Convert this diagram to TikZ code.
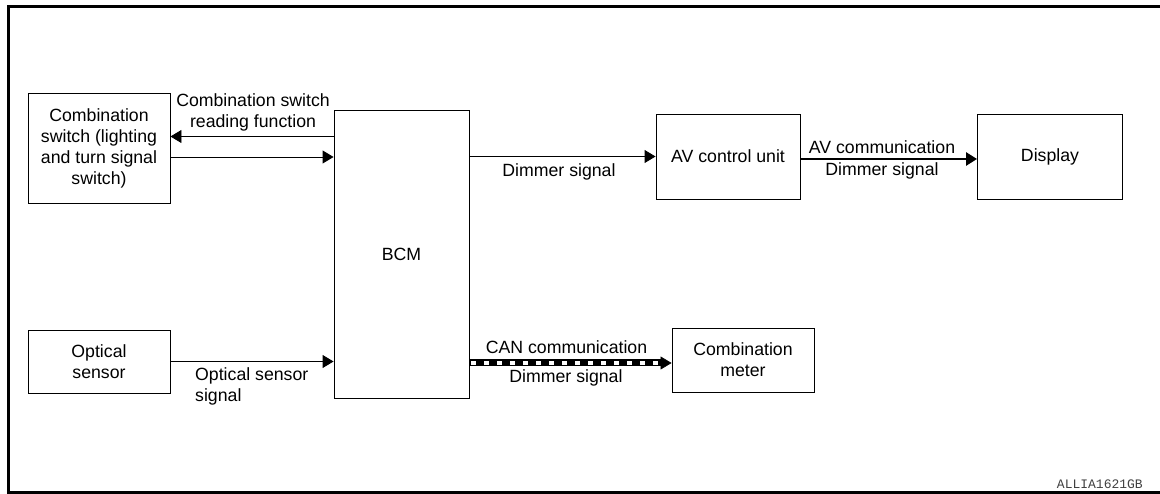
\documentclass[tikz,border=0pt]{standalone}
\usepackage{fontspec}
\setmainfont{Liberation Sans}
\newfontfamily\codefont{Liberation Mono}
\usetikzlibrary{arrows.meta}
\tikzset{
  unit/.style={draw, line width=0.9pt, align=center, inner sep=0pt,
    font=\fontsize{17.7}{21}\selectfont},
  lbl/.style={align=center, inner sep=0pt, font=\fontsize{17.7}{21}\selectfont},
  sig/.style={line width=0.9pt, -{Triangle[length=11pt,width=13pt]}},
  bus/.style={line width=2.6pt, -{Triangle[length=11pt,width=13pt]}},
  frame/.style={line width=3pt}
}
\begin{document}
\begin{tikzpicture}[x=1pt,y=-1pt]
\useasboundingbox (0,0) rectangle (1160,494);
% page frame, open on the right
\draw[frame] (1160,6.5) -- (8.5,6.5) -- (8.5,492.5) -- (1160,492.5);

% units
\node[unit, minimum width=142pt, minimum height=110pt] (comb) at (99,148)
  {Combination\\switch (lighting\\and turn signal\\switch)};
\node[unit, minimum width=142pt, minimum height=63pt] (opt) at (99,361.5)
  {Optical\\sensor};
\node[unit, minimum width=135pt, minimum height=288pt] (bcm) at (401.5,254) {BCM};
\node[unit, minimum width=144pt, minimum height=85pt] (av) at (728,156.5) {AV control unit};
\node[unit, minimum width=145pt, minimum height=85pt] (disp) at (1050,156.5) {Display};
\node[unit, minimum width=142pt, minimum height=64pt] (meter) at (743,360)
  {Combination\\meter};

% combination switch <-> BCM
\draw[sig] (bcm.west |- 0,136.5) -- (comb.east |- 0,136.5);
\draw[sig] (comb.east |- 0,157) -- (bcm.west |- 0,157);
\node[lbl] (lread) at (253,112) {Combination switch\\reading function};

% optical sensor -> BCM
\draw[sig] (opt.east) -- (bcm.west |- opt.east);
\node[lbl, anchor=west, align=left] (lopt) at (195,386) {Optical sensor\\signal};

% BCM -> AV control unit
\draw[sig] (bcm.east |- av.west) -- (av.west);
\node[lbl] (ldim) at (559,172) {Dimmer signal};

% AV control unit -> display
\draw[bus] (av.east |- 0,159) -- (disp.west |- 0,159);
\node[lbl] (lavc) at (882,147) {AV communication};
\node[lbl] (lavd) at (882,170.5) {Dimmer signal};

% BCM -> combination meter over CAN
\coordinate (canA) at (bcm.east |- 0,363);
\coordinate (canB) at ([xshift=-11pt]meter.west |- 0,363);
\draw[line width=7pt] (canA) -- (canB);
\draw[line width=4.6pt, white, dash pattern=on 5pt off 8pt, dash phase=-2pt] (canA) -- (canB);
\draw[sig, line width=0.6pt] (canB) -- (meter.west |- 0,363);
\node[lbl] (lcanc) at (566.5,347) {CAN communication};
\node[lbl] (lcand) at (566,377.5) {Dimmer signal};

% drawing code
\node[anchor=east, inner sep=0pt, text=black!75, font=\codefont\fontsize{13}{13}\selectfont]
  (code) at (1143,484) {ALLIA1621GB};
\end{tikzpicture}
\end{document}
